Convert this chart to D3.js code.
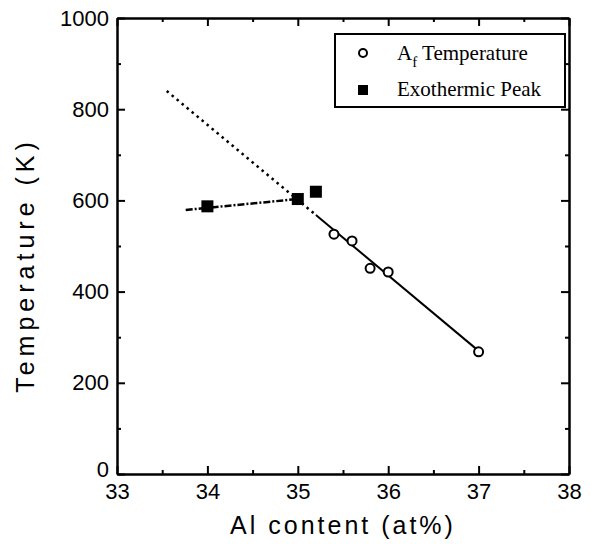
<!DOCTYPE html>
<html>
<head>
<meta charset="utf-8">
<script src="https://cdn.jsdelivr.net/npm/d3@7"></script>
<style>
  body { margin: 0; background: #fff; }
  svg { display: block; }
  .axis path, .axis line { stroke: #000; stroke-width: 2; }
  .axis text { font-family: "Liberation Sans", Arial, sans-serif; font-size: 22px; fill: #000; }
  .title { font-family: "Liberation Sans", Arial, sans-serif; font-size: 25px; fill: #000; }
  .legend text { font-family: "Liberation Serif", "Times New Roman", serif; font-size: 21px; fill: #000; }
</style>
</head>
<body>
<svg id="chart" width="591" height="545"></svg>
<script>
// Af temperature (open circles)
const afX = [35.4, 35.6, 35.8, 36.0, 37.0];
const afY = [526, 511, 451, 443, 268];
// Exothermic peak (filled squares)
const exoX = [34.0, 35.0, 35.2];
const exoY = [587, 603, 619];
// fit lines
const afFitSolid = [[35.2, 568], [37.0, 270]];
const afFitDotted = [[33.55, 840], [35.2, 568]];
const exoFit = [[33.76, 579], [35.05, 604]];

const xTicks = [33, 34, 35, 36, 37, 38];
const xMinor = [33.5, 34.5, 35.5, 36.5, 37.5];
const yTicks = [0, 200, 400, 600, 800, 1000];
const yMinor = [100, 300, 500, 700, 900];

const svg = d3.select('#chart');
const plotL = 117, plotR = 569, plotT = 18, plotB = 474;

const x = d3.scaleLinear().domain([33, 38]).range([plotL, plotR]);
const y = d3.scaleLinear().domain([0, 1000]).range([plotB, plotT]);

// axes, ticks pointing inward
svg.append('g').attr('class', 'axis')
    .attr('transform', `translate(0,${plotB})`)
    .call(d3.axisBottom(x).tickValues(xTicks).tickFormat(d3.format('d'))
        .tickSizeInner(-8).tickSizeOuter(0).tickPadding(9));
svg.append('g').attr('class', 'axis')
    .attr('transform', `translate(0,${plotB})`)
    .call(d3.axisBottom(x).tickValues(xMinor).tickFormat('')
        .tickSizeInner(-4).tickSizeOuter(0));
svg.append('g').attr('class', 'axis')
    .attr('transform', `translate(0,${plotT})`)
    .call(d3.axisTop(x).tickValues(xTicks).tickFormat('')
        .tickSizeInner(-8).tickSizeOuter(0));
svg.append('g').attr('class', 'axis')
    .attr('transform', `translate(0,${plotT})`)
    .call(d3.axisTop(x).tickValues(xMinor).tickFormat('')
        .tickSizeInner(-4).tickSizeOuter(0));

const yAxisG = svg.append('g').attr('class', 'axis')
    .attr('transform', `translate(${plotL},0)`)
    .call(d3.axisLeft(y).tickValues(yTicks).tickFormat(d3.format('d'))
        .tickSizeInner(-8).tickSizeOuter(0).tickPadding(8));
// the "0" label sits a touch higher so it clears the "33" below it
yAxisG.selectAll('.tick text').filter(d => d === 0).attr('dy', '0.1em');
svg.append('g').attr('class', 'axis')
    .attr('transform', `translate(${plotL},0)`)
    .call(d3.axisLeft(y).tickValues(yMinor).tickFormat('')
        .tickSizeInner(-4).tickSizeOuter(0));
svg.append('g').attr('class', 'axis')
    .attr('transform', `translate(${plotR},0)`)
    .call(d3.axisRight(y).tickValues(yTicks).tickFormat('')
        .tickSizeInner(-8).tickSizeOuter(0));
svg.append('g').attr('class', 'axis')
    .attr('transform', `translate(${plotR},0)`)
    .call(d3.axisRight(y).tickValues(yMinor).tickFormat('')
        .tickSizeInner(-4).tickSizeOuter(0));

// axis titles
svg.append('text').attr('class', 'title')
    .attr('x', 343).attr('y', 534)
    .attr('text-anchor', 'middle')
    .style('letter-spacing', '3px')
    .text('Al content (at%)');
svg.append('text').attr('class', 'title')
    .attr('transform', 'translate(34,265) rotate(-90)')
    .attr('text-anchor', 'middle')
    .style('letter-spacing', '5px')
    .text('Temperature (K)');

// fit lines
const line = d3.line().x(d => x(d[0])).y(d => y(d[1]));
svg.append('path').datum(afFitDotted).attr('d', line)
    .attr('fill', 'none').attr('stroke', '#000').attr('stroke-width', 2.5)
    .attr('stroke-dasharray', '2.5,4');
svg.append('path').datum(afFitSolid).attr('d', line)
    .attr('fill', 'none').attr('stroke', '#000').attr('stroke-width', 2);
svg.append('path').datum(exoFit).attr('d', line)
    .attr('fill', 'none').attr('stroke', '#000').attr('stroke-width', 2.5)
    .attr('stroke-dasharray', '7,2,2,2');

// markers
const af = afX.map((v, i) => [v, afY[i]]);
const exo = exoX.map((v, i) => [v, exoY[i]]);
svg.selectAll('.af').data(af).join('circle').attr('class', 'af')
    .attr('cx', d => x(d[0])).attr('cy', d => y(d[1])).attr('r', 4.5)
    .attr('fill', '#fff').attr('stroke', '#000').attr('stroke-width', 2);
const sq = 12;
svg.selectAll('.exo').data(exo).join('rect').attr('class', 'exo')
    .attr('x', d => x(d[0]) - sq / 2).attr('y', d => y(d[1]) - sq / 2)
    .attr('width', sq).attr('height', sq).attr('fill', '#000');

// legend
const lg = svg.append('g').attr('class', 'legend');
lg.append('rect').attr('x', 335).attr('y', 34).attr('width', 230).attr('height', 73)
    .attr('fill', '#fff').attr('stroke', '#000').attr('stroke-width', 2);
lg.append('circle').attr('cx', 363).attr('cy', 53).attr('r', 4)
    .attr('fill', '#fff').attr('stroke', '#000').attr('stroke-width', 2);
lg.append('rect').attr('x', 358).attr('y', 85).attr('width', 10).attr('height', 10)
    .attr('fill', '#000');
const t1 = lg.append('text').attr('x', 397).attr('y', 60);
t1.append('tspan').text('A');
t1.append('tspan').attr('dy', 7).style('font-size', '15px').text('f');
t1.append('tspan').attr('dy', -7).text(' Temperature');
lg.append('text').attr('x', 397).attr('y', 96).text('Exothermic Peak');
</script>
</body>
</html>
